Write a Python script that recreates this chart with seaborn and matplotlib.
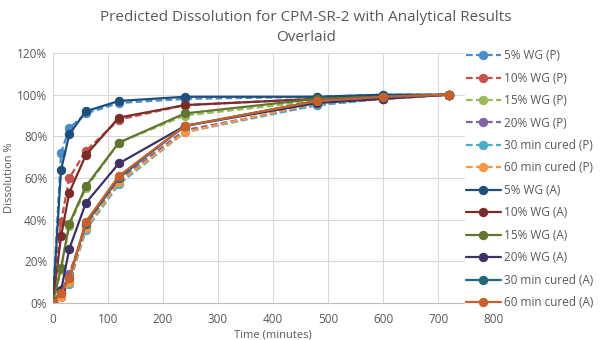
import numpy as np
import pandas as pd
import matplotlib
matplotlib.use('Agg')
import matplotlib.pyplot as plt
from matplotlib.ticker import PercentFormatter
import seaborn as sns

# Sampling times (minutes)
times = [0, 15, 30, 60, 120, 240, 480, 600, 720]

# Predicted (P) dissolution, %
p_5wg = [0, 72, 84, 91, 96, 98, 99, 100, 100]
p_10wg = [0, 39, 60, 73, 88, 95, 98, 99, 100]
p_15wg = [0, 16, 37, 55, 77, 90, 97, 99, 100]
p_20wg = [0, 5, 14, 37, 59, 83, 95, 98, 100]
p_30min = [0, 3, 9, 35, 57, 82, 95, 98, 100]
p_60min = [0, 3, 10, 36, 58, 82, 96, 98, 100]

# Analytical (A) dissolution, %
a_5wg = [0, 64, 81, 92, 97, 99, 99, 100, 100]
a_10wg = [0, 32, 53, 71, 89, 95, 98, 99, 100]
a_15wg = [0, 17, 38, 56, 77, 91, 98, 99, 100]
a_20wg = [0, 6, 26, 48, 67, 85, 96, 98, 100]
a_30min = [0, 5, 12, 38, 60, 85, 97, 99, 100]
a_60min = [0, 5, 12, 39, 61, 85, 97, 99, 100]

labels = ['5% WG (P)', '10% WG (P)', '15% WG (P)', '20% WG (P)',
          '30 min cured (P)', '60 min cured (P)',
          '5% WG (A)', '10% WG (A)', '15% WG (A)', '20% WG (A)',
          '30 min cured (A)', '60 min cured (A)']
series = [p_5wg, p_10wg, p_15wg, p_20wg, p_30min, p_60min,
          a_5wg, a_10wg, a_15wg, a_20wg, a_30min, a_60min]
colors = ['#4A8CCB', '#C6504B', '#9BBB59', '#8064A2', '#4BACC6', '#F79646',
          '#1F4E79', '#7A2C2A', '#5F7530', '#3F3164', '#23697C', '#C8602C']

sns.set_style('white')
plt.rcParams['font.family'] = ['Open Sans', 'DejaVu Sans']

fig = plt.figure(figsize=(6, 3.4), dpi=100)
ax = fig.add_axes([0.088, 0.109, 0.734, 0.735])

for i, (lab, vals, col) in enumerate(zip(labels, series, colors)):
    df = pd.DataFrame({'time': times, 'dissolution': np.array(vals) / 100})
    ls = (0, (3, 1.5)) if '(P)' in lab else '-'
    sns.lineplot(data=df, x='time', y='dissolution', ax=ax, color=col,
                 linestyle=ls, linewidth=1.6, marker='o', markersize=6,
                 markeredgecolor=col, label=lab)

ax.set_xlim(0, 800)
ax.set_ylim(0, 1.2)
ax.set_xticks(np.arange(0, 801, 100))
ax.set_yticks(np.arange(0, 1.21, 0.2))
ax.yaxis.set_major_formatter(PercentFormatter(1.0, decimals=0))
ax.grid(True, color='#D9D9D9', linewidth=0.8)
for s in ax.spines.values():
    s.set_visible(False)
ax.spines['bottom'].set_visible(True)
ax.spines['bottom'].set_color('#BFBFBF')
ax.tick_params(axis='both', length=0, labelsize=8.5, colors='#595959')
ax.tick_params(axis='x', pad=7)
ax.tick_params(axis='y', pad=4)

ax.set_xlabel('Time (minutes)', fontsize=8, color='#595959', labelpad=3)
ax.set_ylabel('Dissolution %', fontsize=8, color='#595959')
ax.yaxis.set_label_coords(-0.085, 0.5)

fig.suptitle('Predicted Dissolution for CPM-SR-2 with Analytical Results\nOverlaid',
             fontsize=11, color='#595959', x=0.51, y=0.97, linespacing=1.45)

leg = ax.legend(loc='upper left', bbox_to_anchor=(0.935, 1.02), frameon=True,
                fontsize=8.5, handlelength=3.0, labelspacing=0.8,
                borderpad=0.1, handletextpad=0.2, labelcolor='#595959',
                borderaxespad=0)
leg.get_frame().set_facecolor('white')
leg.get_frame().set_edgecolor('none')
leg.get_frame().set_alpha(1)

fig.savefig('out.png', dpi=100)
plt.close()
